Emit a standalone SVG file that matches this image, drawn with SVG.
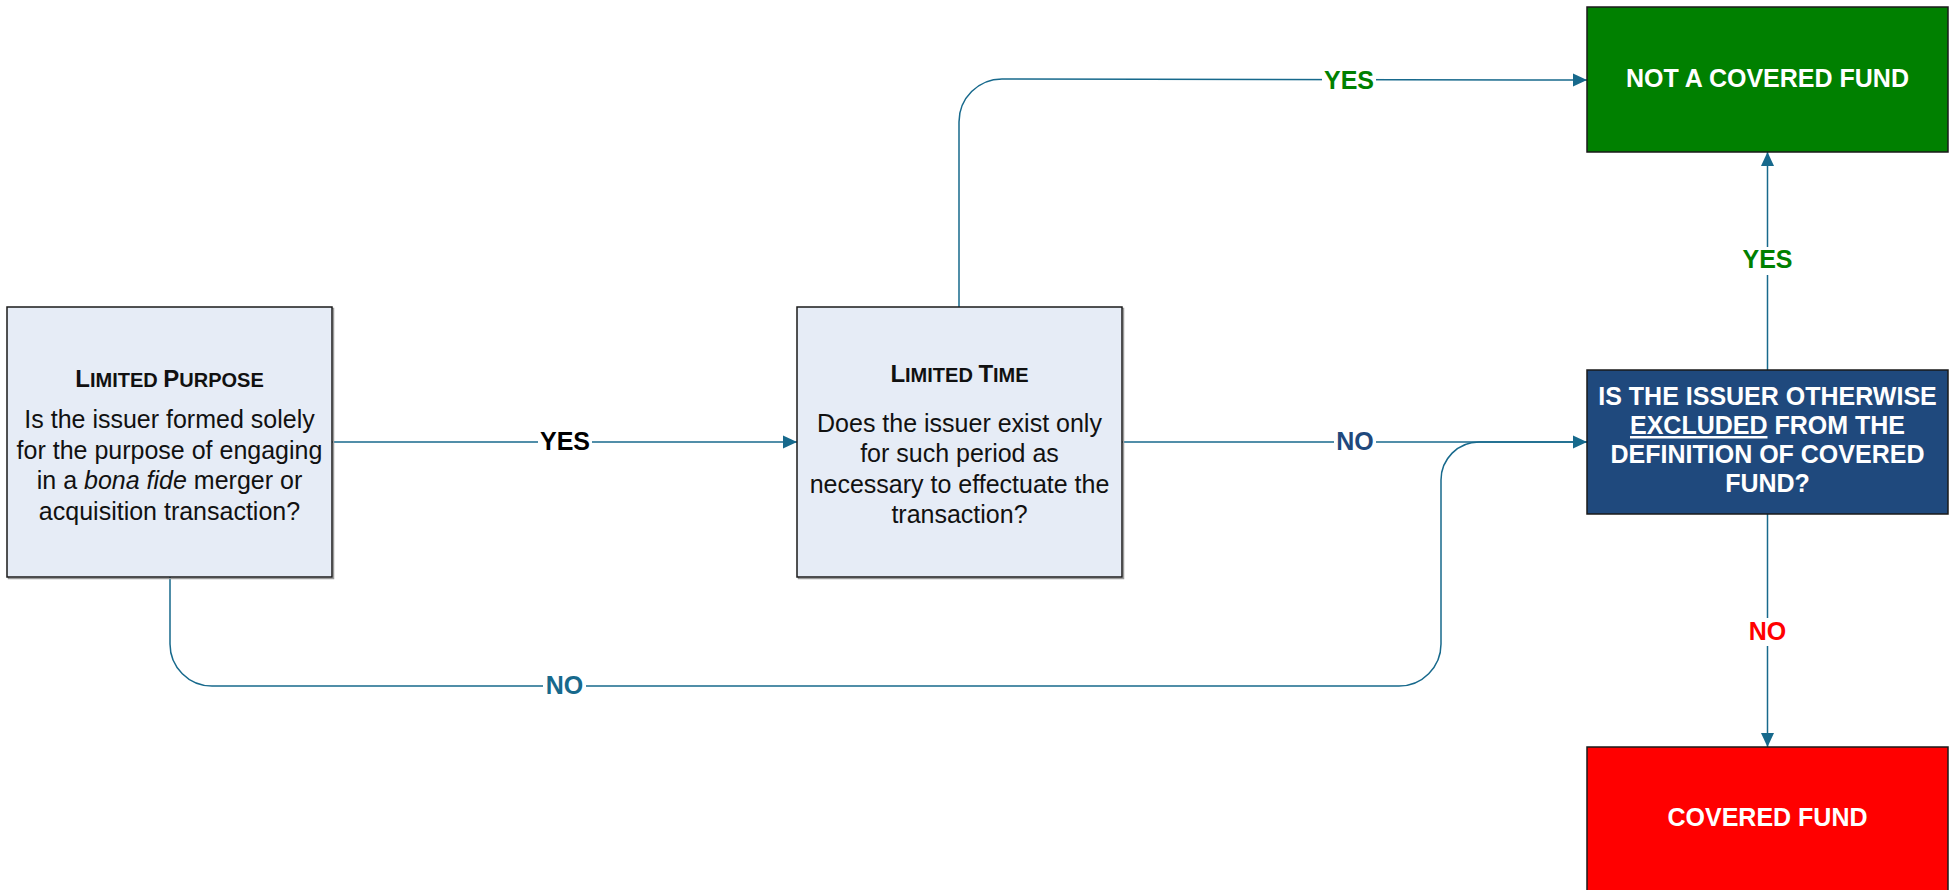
<svg xmlns="http://www.w3.org/2000/svg" width="1960" height="890" viewBox="0 0 1960 890">
  <defs>
    <marker id="arr" viewBox="0 0 14 14" refX="14" refY="7" markerWidth="14" markerHeight="14" markerUnits="userSpaceOnUse" orient="auto">
      <path d="M0,0.5 L14,7 L0,13.5 Z" fill="#17698c"/>
    </marker>
  </defs>
  <style>
    .box { stroke: #1a1a1a; stroke-width: 1.5; }
    .q { fill: #e6ecf6; }
    .shadow { fill: none; stroke: #9a9a9a; stroke-width: 1.5; }
    .conn { fill: none; stroke: #17698c; stroke-width: 1.5; }
    .t { font-family: "Liberation Sans", Arial, sans-serif; text-anchor: middle; }
    .body { font-size: 25px; fill: #111; }
    .title { font-weight: bold; fill: #111; }
    .wb { font-size: 25px; font-weight: bold; fill: #fff; }
    .lbl { font-size: 25px; font-weight: bold; }
    .lblbg { fill: #fff; }
  </style>
  <rect width="1960" height="890" fill="#fff"/>

  <g id="connectors">
    <!-- Limited Purpose -> Limited Time (YES) -->
    <path class="conn" d="M332,442 L797,442" marker-end="url(#arr)"/>
    <!-- Limited Time -> Not a covered fund (YES) -->
    <path class="conn" d="M959,307 L959,122 A43,43 0 0 1 1002,79 L1587,80" marker-end="url(#arr)"/>
    <!-- Limited Time -> Decision (NO) -->
    <path class="conn" d="M1122,442 L1587,442" marker-end="url(#arr)"/>
    <!-- Limited Purpose -> Decision (NO) -->
    <path class="conn" d="M170,577 L170,644 A42,42 0 0 0 212,686 L1399,686 A42,42 0 0 0 1441,644 L1441,480 A38,38 0 0 1 1479,442 L1587,442"/>
    <!-- Decision -> Not covered (YES) -->
    <path class="conn" d="M1767.5,370 L1767.5,152" marker-end="url(#arr)"/>
    <!-- Decision -> Covered (NO) -->
    <path class="conn" d="M1767.5,514 L1767.5,747" marker-end="url(#arr)"/>

    <rect class="lblbg" x="538" y="428" width="54" height="28"/>
    <text class="t lbl" x="565" y="450" fill="#000">YES</text>
    <rect class="lblbg" x="1322" y="64" width="54" height="28"/>
    <text class="t lbl" x="1349" y="89" fill="#008000">YES</text>
    <rect class="lblbg" x="1334" y="428" width="42" height="28"/>
    <text class="t lbl" x="1355" y="450" fill="#1f497d">NO</text>
    <rect class="lblbg" x="543" y="672" width="43" height="28"/>
    <text class="t lbl" x="564.5" y="694" fill="#17698c">NO</text>
    <rect class="lblbg" x="1740" y="247" width="55" height="28"/>
    <text class="t lbl" x="1767.5" y="268" fill="#008000">YES</text>
    <rect class="lblbg" x="1745" y="618" width="45" height="28"/>
    <text class="t lbl" x="1767.5" y="640" fill="#ff0000">NO</text>
  </g>

  <g id="limited-purpose">
    <rect class="shadow" x="8.5" y="308.5" width="325" height="270"/>
    <rect class="box q" x="7" y="307" width="325" height="270"/>
    <text class="t title" x="169.5" y="387"><tspan font-size="24">L</tspan><tspan font-size="20">IMITED </tspan><tspan font-size="24">P</tspan><tspan font-size="20">URPOSE</tspan></text>
    <text class="t body" x="169.5" y="428">Is the issuer formed solely</text>
    <text class="t body" x="169.5" y="459">for the purpose of engaging</text>
    <text class="t body" x="169.5" y="489">in a <tspan font-style="italic">bona fide</tspan> merger or</text>
    <text class="t body" x="169.5" y="520">acquisition transaction?</text>
  </g>

  <g id="limited-time">
    <rect class="shadow" x="798.5" y="308.5" width="325" height="270"/>
    <rect class="box q" x="797" y="307" width="325" height="270"/>
    <text class="t title" x="959.5" y="382"><tspan font-size="24">L</tspan><tspan font-size="20">IMITED </tspan><tspan font-size="24">T</tspan><tspan font-size="20">IME</tspan></text>
    <text class="t body" x="959.5" y="432">Does the issuer exist only</text>
    <text class="t body" x="959.5" y="462">for such period as</text>
    <text class="t body" x="959.5" y="493">necessary to effectuate the</text>
    <text class="t body" x="959.5" y="523">transaction?</text>
  </g>

  <g id="decision">
    <rect class="box" x="1587" y="370" width="361" height="144" fill="#1f497d"/>
    <text class="t wb" x="1767.5" y="405">IS THE ISSUER OTHERWISE</text>
    <text class="t wb" x="1767.5" y="434"><tspan text-decoration="underline">EXCLUDED</tspan> FROM THE</text>
    <text class="t wb" x="1767.5" y="463">DEFINITION OF COVERED</text>
    <text class="t wb" x="1767.5" y="492">FUND?</text>
  </g>

  <g id="not-covered-fund">
    <rect class="box" x="1587" y="7" width="361" height="145" fill="#008000"/>
    <text class="t wb" x="1767.5" y="87">NOT A COVERED FUND</text>
  </g>

  <g id="covered-fund">
    <rect class="box" x="1587" y="747" width="361" height="160" fill="#ff0000"/>
    <text class="t wb" x="1767.5" y="826">COVERED FUND</text>
  </g>
</svg>
